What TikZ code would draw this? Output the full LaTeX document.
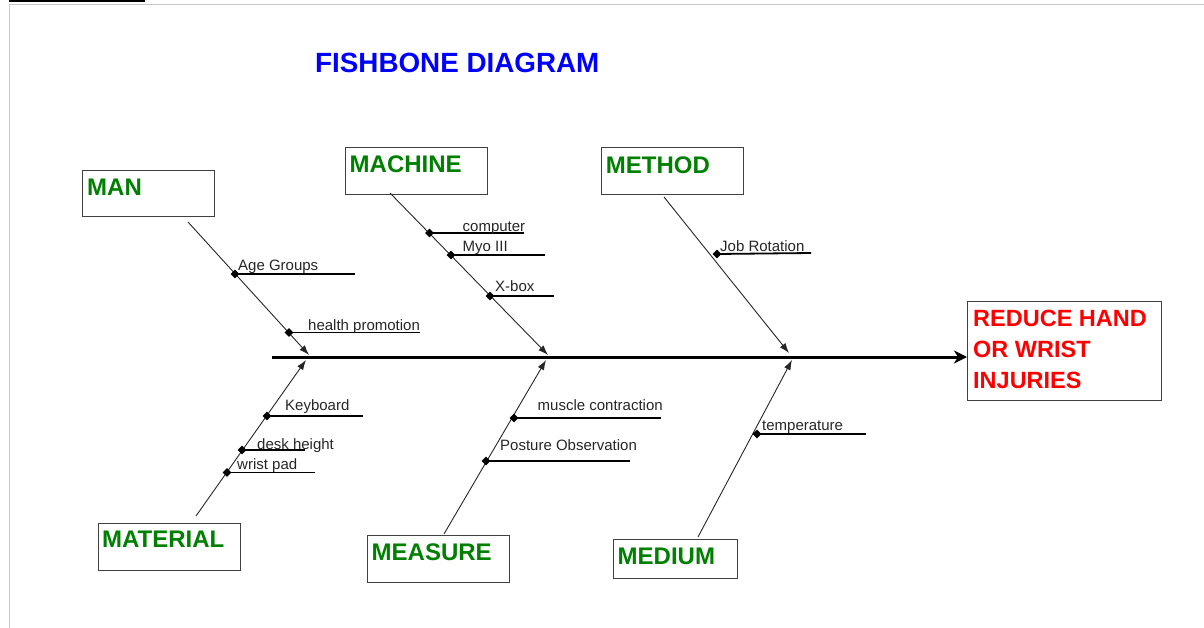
\documentclass[tikz,border=0pt]{standalone}
\usepackage{fontspec}
\setmainfont{Liberation Sans}
\usetikzlibrary{arrows.meta,shapes.geometric}
\definecolor{catgreen}{RGB}{0,128,0}
\definecolor{boxgray}{RGB}{64,64,64}
\definecolor{framegray}{RGB}{200,200,200}
\begin{document}
\begin{tikzpicture}[x=1pt,y=-1pt,
  catbox/.style={draw=boxgray,line width=1pt,inner sep=0pt,anchor=north west,fill=white},
  catlbl/.style={anchor=base west,inner sep=0pt,text=catgreen,font=\fontsize{24}{24}\selectfont\bfseries},
  effectlbl/.style={anchor=base west,inner sep=0pt,text=red,font=\fontsize{23.5}{31}\selectfont\bfseries},
  bone/.style={draw=black!85,line width=0.9pt,-{Latex[length=10pt,width=7pt]}},
  spine/.style={draw=black,line width=3pt,-{Stealth[length=13pt,width=13pt,inset=4pt]}},
  subbone/.style={draw=black,line width=1.8pt},
  dia/.style={diamond,fill=black,inner sep=0pt,minimum size=9pt},
  sublbl/.style={anchor=base west,inner sep=0pt,font=\fontsize{15}{15}\selectfont,text=black!85}]
\useasboundingbox (0,0) rectangle (1204,628);
% window frame
\fill[black] (9,0) rectangle (145,2.5);
\draw[framegray,line width=1.2pt] (9,4.5) -- (1204,4.5);
\draw[framegray,line width=1.2pt] (9.5,4.5) -- (9.5,628);

% title
\node[anchor=base west,inner sep=0pt,text=blue,font=\fontsize{27.8}{28}\selectfont\bfseries] (title) at (315,73) {FISHBONE DIAGRAM};

% effect box
\node[catbox,minimum width=194pt,minimum height=99pt] (effect) at (967,301) {};
\node[effectlbl] (effectlbl1) at (973,326.5) {REDUCE HAND};
\node[effectlbl] (effectlbl2) at (973,357.5) {OR WRIST};
\node[effectlbl] (effectlbl3) at (973,388.5) {INJURIES};

% category boxes
\node[catbox,minimum width=132pt,minimum height=46pt] (man) at (82,170) {};
\node[catlbl] (manlbl) at (87,195.5) {MAN};
\node[catbox,minimum width=142pt,minimum height=47pt] (machine) at (344.5,147) {};
\node[catlbl] (machinelbl) at (349.5,172.3) {MACHINE};
\node[catbox,minimum width=142pt,minimum height=47pt] (method) at (601,147.5) {};
\node[catlbl] (methodlbl) at (605.7,173.3) {METHOD};
\node[catbox,minimum width=142pt,minimum height=47pt] (material) at (97.5,522.5) {};
\node[catlbl] (materiallbl) at (102,547.5) {MATERIAL};
\node[catbox,minimum width=142pt,minimum height=47pt] (measure) at (366.5,535) {};
\node[catlbl] (measurelbl) at (371.5,560.5) {MEASURE};
\node[catbox,minimum width=124pt,minimum height=39pt] (medium) at (613,538.5) {};
\node[catlbl] (mediumlbl) at (617.5,564) {MEDIUM};

% spine
\coordinate (spinestart) at (272,357);
\draw[spine] (spinestart) -- (effect.west |- spinestart);

% bone coordinates
\coordinate (manb) at (188,222);    \coordinate (mant) at (309,355);
\coordinate (machb) at (390,193);   \coordinate (macht) at (548,355);
\coordinate (methb) at (664,197);   \coordinate (metht) at (789,353);
\coordinate (matb) at (196,516);    \coordinate (matt) at (306,360);
\coordinate (measb) at (444,534);   \coordinate (meast) at (546,360);
\coordinate (medb) at (698,537);    \coordinate (medt) at (792,360);
\draw[bone] (manb) -- (mant);
\draw[bone] (machb) -- (macht);
\draw[bone] (methb) -- (metht);
\draw[bone] (matb) -- (matt);
\draw[bone] (measb) -- (meast);
\draw[bone] (medb) -- (medt);

% sub-causes
\node[dia] (d1) at (235,274) {};   \coordinate (e1) at (355,274);
\node[dia] (d2) at (289,332.5) {}; \coordinate (e2) at (419.5,332.5);
\node[dia] (d3) at (429.5,233) {}; \coordinate (e3) at (523.5,233);
\node[dia] (d4) at (451,255) {};   \coordinate (e4) at (545,255);
\node[dia] (d5) at (490,296) {};   \coordinate (e5) at (554,296);
\node[dia] (d6) at (717,254) {};   \coordinate (e6) at (811,253);
\node[dia] (d7) at (267,416) {};   \coordinate (e7) at (362.5,416);
\node[dia] (d8) at (242,450) {};   \coordinate (e8) at (305,450);
\node[dia] (d9) at (227,472.5) {}; \coordinate (e9) at (314.5,472.5);
\node[dia] (d10) at (514,418) {};  \coordinate (e10) at (661,418);
\node[dia] (d11) at (486,461) {};  \coordinate (e11) at (630,461);
\node[dia] (d12) at (757,434) {};  \coordinate (e12) at (865.5,434);
\foreach \i in {1,...,12} {\draw[subbone] (d\i.center) -- (e\i);}

\node[sublbl] (s1) at (238,270.7) {Age Groups};
\node[sublbl] (s2) at (308,330.5) {health promotion};
\node[sublbl] (s3) at (462.5,231.5) {computer};
\node[sublbl] (s4) at (462.5,251.5) {Myo III};
\node[sublbl] (s5) at (495,291) {X-box};
\node[sublbl] (s6) at (720,251.5) {Job Rotation};
\node[sublbl] (s7) at (285,410) {Keyboard};
\node[sublbl] (s8) at (257,449) {desk height};
\node[sublbl] (s9) at (237,469) {wrist pad};
\node[sublbl] (s10) at (537.5,410) {muscle contraction};
\node[sublbl] (s11) at (500,450) {Posture Observation};
\node[sublbl] (s12) at (762,430) {temperature};
\end{tikzpicture}
\end{document}
